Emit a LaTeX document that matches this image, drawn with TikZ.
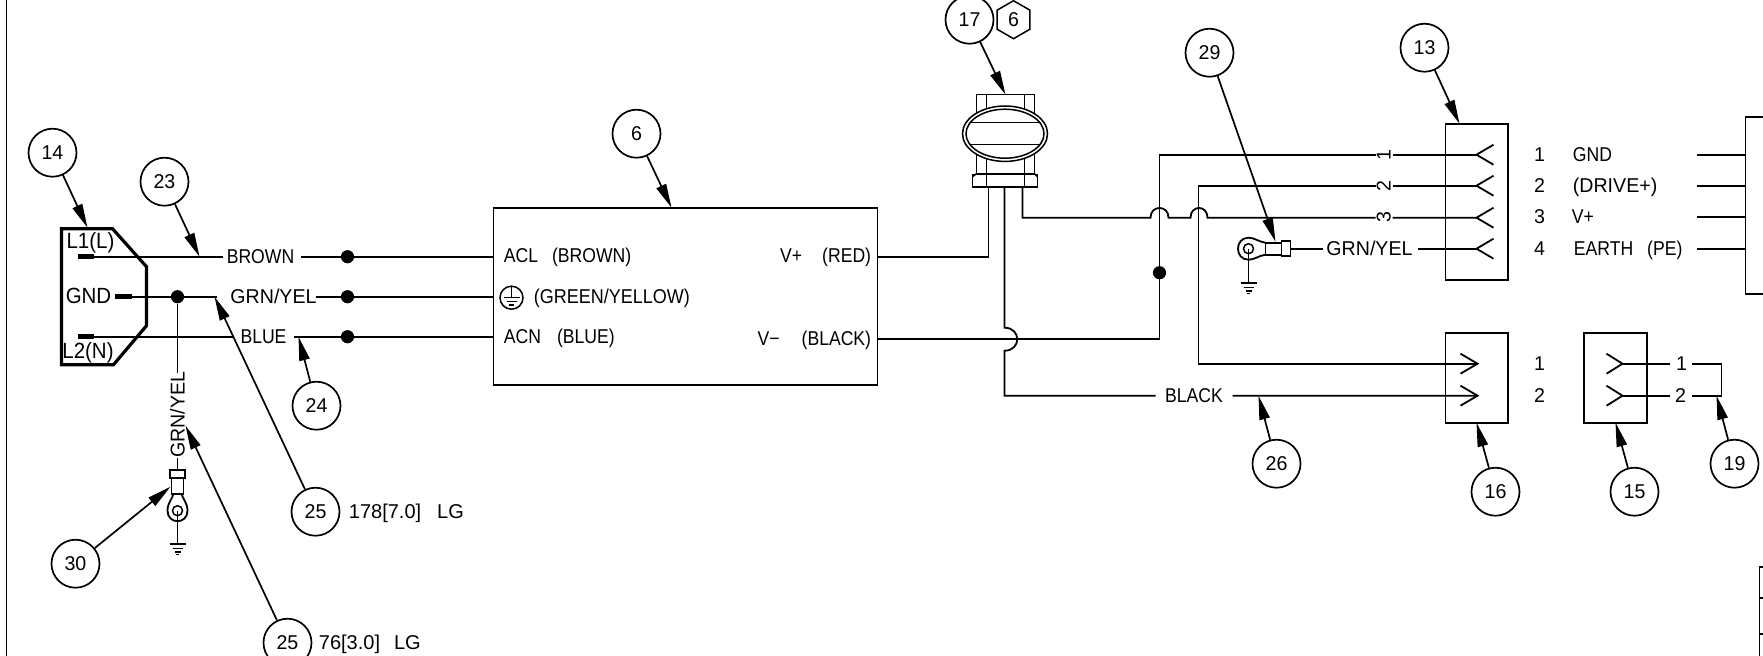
\documentclass[tikz,border=0pt]{standalone}
\usepackage{fontspec}
\setmainfont[FakeStretch=0.88]{Liberation Sans}
\newfontfamily\digfont[FakeStretch=0.98]{Liberation Sans}
\newfontfamily\notefont[FakeStretch=1.0]{Liberation Sans}
\newfontfamily\bigfont[FakeStretch=0.93]{Liberation Sans}
\newfontfamily\midfont[FakeStretch=0.9]{Liberation Sans}
\usetikzlibrary{arrows.meta,shapes.geometric}
\tikzset{
 wire/.style={line width=0.9pt,line join=miter},
 thin part/.style={line width=0.75pt},
 plug/.style={line width=1.6pt,line join=miter},
 stub/.style={line width=2.6pt},
 arr/.style={line width=0.85pt,-{Stealth[length=12pt,width=5.2pt,inset=0pt]},shorten >=0pt},
 bub/.style={circle,draw,line width=0.85pt,minimum size=24pt,inner sep=0pt,text height=7.2pt,text depth=0pt,font=\fontsize{10}{11}\digfont},
 lab/.style={inner sep=0pt,text height=7.2pt,text depth=0pt,font=\fontsize{10}{11}\selectfont},
 num/.style={lab,font=\fontsize{10}{11}\digfont},
 blab/.style={lab,font=\fontsize{11}{12}\bigfont},
 hexa/.style={regular polygon,regular polygon sides=6,shape border rotate=30,draw,line width=0.75pt,minimum size=19pt,inner sep=0pt,text height=7.2pt,text depth=0pt,font=\fontsize{10}{11}\digfont},
 dot/.style={circle,fill=black,inner sep=0pt,minimum size=6.6pt},
}
\begin{document}
\begin{tikzpicture}[x=0.5pt,y=-0.5pt]
\useasboundingbox (0,0) rectangle (1763,655);
\clip (0,0) rectangle (1763,655);
\begin{scope}[xshift=0.25pt,yshift=-0.35pt]
\draw[wire] (6,-5) -- (6,660);

% ---------- balloons
\node[bub] (c14) at (52,152) {14};
\node[bub] (c23) at (164,181) {23};
\node[bub] (c24) at (316,405) {24};
\node[bub] (c25a) at (315,511) {25};
\node[bub] (c25b) at (287,642) {25};
\node[bub] (c30) at (75,563) {30};
\node[bub] (c6) at (636,133) {6};
\node[bub] (c17) at (969,19) {17};
\node[hexa] (h6) at (1013,19) {6};
\node[bub] (c29) at (1209,52) {29};
\node[bub] (c13) at (1424,47) {13};
\node[bub] (c26) at (1276,463) {26};
\node[bub] (c16) at (1495,491) {16};
\node[bub] (c15) at (1634,491) {15};
\node[bub] (c19) at (1734,463) {19};

% ---------- arrow tips
\coordinate (t14) at (87,227);
\coordinate (t23) at (199,256);
\coordinate (t24) at (298,336);
\coordinate (t25a) at (214,296);
\coordinate (t25b) at (185,425);
\coordinate (t30) at (170,486);
\coordinate (t6) at (671,207);
\coordinate (t17) at (1005,94);
\coordinate (t29) at (1275,241);
\coordinate (t13) at (1459,123);
\coordinate (t26) at (1258,395);
\coordinate (t16) at (1476,422);
\coordinate (t15) at (1615,422);
\coordinate (t19) at (1716,395);

% ---------- inlet connector 14
\draw[plug] (61,228) -- (112,228) -- (146,266) -- (146,325) -- (113,364) -- (61,364) -- cycle;
\draw[stub] (77,256) -- (93,256) (114,296) -- (131,296) (77,336) -- (93,336);
\node[blab] (l1l) at (90,241) {L1(L)};
\node[blab] (gnd) at (88,296) {GND};
\node[blab] (l2n) at (87.5,351) {L2(N)};

% ---------- power supply 6
\node[draw,line width=0.9pt,inner sep=0pt,minimum width=192pt,minimum height=88.5pt] (psu) at (685,295.5) {};
\node[lab,anchor=west] (acl) at (503,255) {ACL\hspace{7pt}(BROWN)};
\node[lab,anchor=west,font=\fontsize{10}{11}\midfont] (gy) at (533,296) {(GREEN/YELLOW)};
\node[lab,anchor=west] (acn) at (503,336) {ACN\hspace{8pt}(BLUE)};
\node[lab,anchor=east] (vp) at (871,255) {V+\hspace{10pt}(RED)};
\node[lab,anchor=east] (vm) at (871,338) {V\textminus\hspace{11pt}(BLACK)};
\node[circle,draw,line width=0.75pt,minimum size=11.5pt,inner sep=0pt] (eth) at (511,297) {};
\draw[thin part] (511,286) -- (511,297) (503,297) -- (519,297) (506,301) -- (516,301) (508.5,304.5) -- (513.5,304.5);

% ---------- mains wires
\node[lab] (brown) at (260,256) {BROWN};
\node[lab,font=\fontsize{10}{11}\digfont] (gy1) at (273,296) {GRN/YEL};
\node[lab] (blue) at (263,336) {BLUE};
\node[dot] (d1) at (347,256) {};
\node[dot] (d2) at (347,296) {};
\node[dot] (d3) at (347,336) {};
\node[dot] (d4) at (177,296) {};
\coordinate (a1) at (90,256); \coordinate (a2) at (222,256); \coordinate (a3) at (300,256); \coordinate (a4) at (493,256);
\coordinate (b1) at (128,296); \coordinate (b2) at (216,296); \coordinate (b3) at (315,296); \coordinate (b4) at (493,296);
\coordinate (e1) at (90,336); \coordinate (e2) at (233,336); \coordinate (e3) at (293,336); \coordinate (e4) at (493,336);
\draw[wire] (a1) -- (a2) (a3) -- (a4) (b1) -- (b2) (b3) -- (b4) (e1) -- (e2) (e3) -- (e4);

% ---------- left earth lead
\node[lab,rotate=90,font=\fontsize{10}{11}\digfont] (gy2) at (177,414) {GRN/YEL};
\coordinate (f1) at (177,372); \coordinate (f2) at (177,457); \coordinate (f3) at (177,469);
\draw[wire] (d4) -- (f1) (f2) -- (f3);
\draw[wire] (169.5,469) rectangle (184.5,477);
\draw[wire] (171,477) rectangle (183,493);
\draw[wire] (173,493) .. controls (172,498) and (167,502) .. (167,510) .. controls (167,524) and (187,524) .. (187,510) .. controls (187,502) and (182,498) .. (181,493);
\draw[thin part] (177,510) circle[radius=5];
\draw[wire] (177,510) -- (177,543);
\draw[wire] (169,543) -- (185,543);
\draw[thin part] (172,548) -- (182,548) (174,551.5) -- (180,551.5) (175.5,554) -- (178.5,554);

% ---------- strain relief 17
\draw[thin part] (976,94) rectangle (1034,173);
\draw[thin part] (986,94) -- (986,187) (1024,94) -- (1024,187);
\draw[thin part] (972,174) rectangle (1037,186.5);
\draw[thin part] (976,173) -- (972,176) (1034,173) -- (1037,176);
\draw[thin part,fill=white] (1004.5,133) ellipse[x radius=42.5,y radius=27.7];
\draw[thin part] (1004.5,133) ellipse[x radius=39,y radius=24.5];
\draw[thin part] (969,122) -- (1040,122) (969,144) -- (1040,144);

% ---------- output wires
\node[dot] (d5) at (1159,272) {};
\coordinate (r0) at (877,256); \coordinate (r1) at (988,256); \coordinate (r2) at (988,187);
\draw[wire] (r0) -- (r1) -- (r2);
\coordinate (k0) at (877,338); \coordinate (k1) at (1159,338); \coordinate (k2) at (1159,154);
\node[num,rotate=90] (n1) at (1383,154) {1};
\node[num,rotate=90] (n2) at (1383,185) {2};
\node[num,rotate=90] (n3) at (1383,216) {3};
\coordinate (k3) at (1375,154); \coordinate (k4) at (1392,154); \coordinate (s1) at (1476,154);
\draw[wire] (k0) -- (k1) -- (k2) -- (k3) (k4) -- (s1);
\coordinate (p0) at (1022,187); \coordinate (p1) at (1022,217); \coordinate (p2) at (1150,217); \coordinate (p3) at (1168,217);
\coordinate (p4) at (1190,217); \coordinate (p5) at (1207,217); \coordinate (p6) at (1375,217); \coordinate (p7) at (1392,217); \coordinate (s3) at (1476,217);
\draw[wire] (p0) -- (p1) -- (p2) .. controls (1150,204) and (1168,204) .. (p3) -- (p4) .. controls (1190,204) and (1207,204) .. (p5) -- (p6) (p7) -- (s3);
\coordinate (m0) at (1198,363); \coordinate (m1) at (1198,185); \coordinate (m2) at (1375,185); \coordinate (m3) at (1392,185); \coordinate (s2) at (1476,185);
\coordinate (m4) at (1477,363);
\draw[wire] (m4) -- (m0) -- (m1) -- (m2) (m3) -- (s2);
\node[lab] (black) at (1193.5,395) {BLACK};
\coordinate (q0) at (1004,187); \coordinate (q1) at (1004,327); \coordinate (q2) at (1004,350); \coordinate (q3) at (1004,395); \coordinate (q4) at (1155,395); \coordinate (q5) at (1232,395); \coordinate (m5) at (1477,395);
\draw[wire] (q0) -- (q1) .. controls (1021,327) and (1021,350) .. (q2) -- (q3) -- (q4) (q5) -- (m5);

% ---------- right earth terminal
\draw[thin part] (1248,248) circle[radius=5];
\draw[wire] (1265,242) .. controls (1258,241) and (1254,237) .. (1248,237) .. controls (1234,237) and (1234,259) .. (1248,259) .. controls (1254,259) and (1258,255) .. (1265,254);
\draw[wire] (1265,242) rectangle (1281,254);
\draw[wire] (1281,240.5) rectangle (1290,255.5);
\draw[wire] (1248,248) -- (1248,282);
\draw[wire] (1240,282) -- (1256,282);
\draw[thin part] (1243,287) -- (1253,287) (1245,290.5) -- (1251,290.5) (1246.5,293) -- (1249.5,293);
\node[lab,font=\fontsize{10}{11}\digfont] (gy3) at (1369,248) {GRN/YEL};
\coordinate (g0) at (1290,248); \coordinate (g1) at (1322,248); \coordinate (g2) at (1417,248); \coordinate (s4) at (1476,248);
\draw[wire] (g0) -- (g1) (g2) -- (s4);

% ---------- connector 13
\node[draw,line width=0.9pt,inner sep=0pt,minimum width=31.25pt,minimum height=78pt] (j13) at (1476.25,201) {};
\foreach \y in {154,185,217,248}
  \draw[wire] (1493,\y-10) -- (1476,\y) -- (1493,\y+10);
\node[num] (p13a) at (1539,154) {1};
\node[num] (p13b) at (1539,185) {2};
\node[num] (p13c) at (1539,216) {3};
\node[num] (p13d) at (1539,248) {4};
\node[lab,anchor=west] (tgnd) at (1572,154) {GND};
\node[lab,anchor=west,font=\fontsize{10}{11}\digfont] (tdrv) at (1572,185) {(DRIVE+)};
\node[lab,anchor=west] (tvp) at (1571,216) {V+};
\node[lab,anchor=west] (tpe) at (1573,248) {EARTH\hspace{7pt}(PE)};

% ---------- driver at right edge
\draw[wire,fill=white] (1780,116) -- (1745,116) -- (1745,293) -- (1780,293);
\coordinate (u0) at (1696,154); \coordinate (u1) at (1745,154);
\coordinate (v0) at (1696,185); \coordinate (v1) at (1745,185);
\coordinate (w0) at (1696,216); \coordinate (w1) at (1745,216);
\coordinate (x0) at (1696,248); \coordinate (x1) at (1745,248);
\draw[wire] (u0) -- (u1) (v0) -- (v1) (w0) -- (w1) (x0) -- (x1);

% ---------- connectors 16, 15
\node[draw,line width=0.9pt,inner sep=0pt,minimum width=31.25pt,minimum height=45pt] (j16) at (1476.25,377) {};
\draw[wire] (1460,353) -- (1477,363) -- (1460,373);
\draw[wire] (1460,385) -- (1477,395) -- (1460,405);
\node[num] (p16a) at (1539,363) {1};
\node[num] (p16b) at (1539,395) {2};
\node[draw,line width=0.9pt,inner sep=0pt,minimum width=31.5pt,minimum height=45pt] (j15) at (1615,377) {};
\draw[wire] (1606,353) -- (1622,363) -- (1606,373);
\draw[wire] (1606,385) -- (1622,395) -- (1606,405);
\node[num] (p15a) at (1681,363) {1};
\node[num] (p15b) at (1680,395) {2};
\coordinate (y0) at (1622,363); \coordinate (y1) at (1669,363); \coordinate (y2) at (1691,363); \coordinate (y3) at (1721,363);
\coordinate (z0) at (1622,395); \coordinate (z1) at (1669,395); \coordinate (z2) at (1691,395); \coordinate (z3) at (1721,395);
\draw[wire] (y0) -- (y1) (z0) -- (z1) (y2) -- (y3) -- (z3) -- (z2);

% ---------- title block corner
\draw[wire] (1780,566) -- (1759,566) -- (1759,660);
\coordinate (tb1) at (1759,597); \coordinate (tb2) at (1770,597); \coordinate (tb3) at (1759,633); \coordinate (tb4) at (1770,633);
\draw[wire] (tb1) -- (tb2) (tb3) -- (tb4);

% ---------- leaders
\foreach \a/\b in {c14/t14,c23/t23,c24/t24,c25a/t25a,c25b/t25b,c30/t30,c6/t6,c17/t17,c29/t29,c13/t13,c26/t26,c16/t16,c15/t15,c19/t19}
  \draw[arr] (\a) -- (\b);

% ---------- length notes
\node[lab,anchor=west,font=\fontsize{10}{11}\notefont] (n178) at (348,511) {178[7.0]\hspace{8pt}LG};
\node[lab,anchor=west,font=\fontsize{10}{11}\notefont] (n76) at (318,642) {76[3.0]\hspace{7pt}LG};
\end{scope}
\end{tikzpicture}
\end{document}
